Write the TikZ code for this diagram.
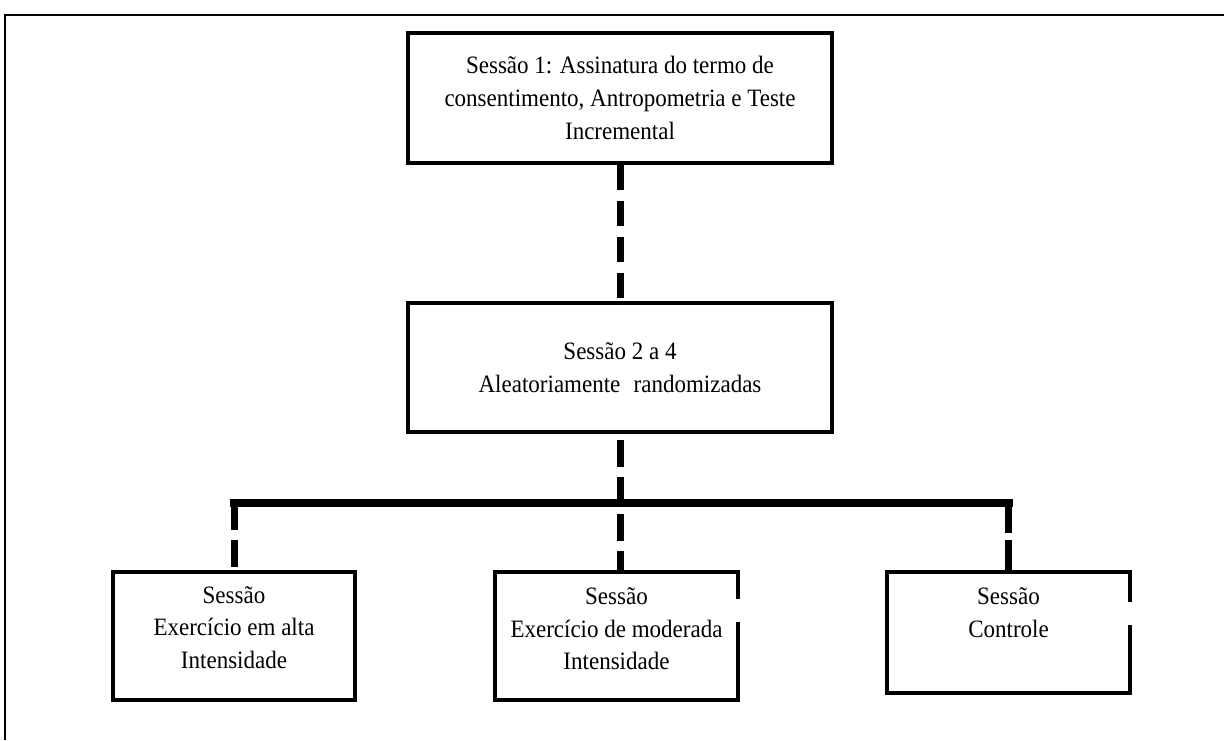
\documentclass[tikz,border=0pt]{standalone}
\usepackage{fontspec}
\setmainfont[FakeStretch=0.92]{Liberation Serif}
\begin{document}
\begin{tikzpicture}[x=1pt,y=-1pt,
  box/.style={draw, line width=4pt, line join=miter, inner sep=0pt, align=center,
    font=\fontsize{25}{33}\selectfont},
  openbox/.style={inner sep=0pt},
  boxline/.style={line width=4pt, line join=miter, line cap=rect},
  lbl/.style={inner sep=0pt, align=center, font=\fontsize{25}{32.5}\selectfont},
  dashlink/.style={line width=7pt, dash pattern=on 25pt off 11pt},
  barline/.style={line width=8pt, line cap=rect, line join=miter},
  frame/.style={line width=2.5pt}]
\useasboundingbox (0,0) rectangle (1224,740);
\fill[white] (0,0) rectangle (1224,740);
\draw[frame] (5,740) -- (5,15) -- (1224,15);

% top and middle boxes
\node[box, minimum width=424pt, minimum height=130pt] (s1) at (620,98)
  {Sessão 1: Assinatura do termo de\\consentimento, Antropometria e Teste\\Incremental};
\node[box, minimum width=424pt, minimum height=129pt] (s2) at (620,367.5)
  {Sessão 2 a 4\\Aleatoriamente\hspace{0.3em} randomizadas};

% bottom boxes
\node[box, minimum width=242pt, minimum height=128pt] (b1) at (234,636) {};
\node[openbox, minimum width=243pt, minimum height=128pt] (b2) at (616.5,636) {};
\node[openbox, minimum width=243pt, minimum height=121pt] (b3) at (1008.5,632.5) {};
\draw[boxline] ([yshift=-25pt]b2.north east) -- (b2.north east) -- (b2.north west)
  -- (b2.south west) -- (b2.south east) -- ([yshift=-52pt]b2.north east);
\draw[boxline] ([yshift=-28pt]b3.north east) -- (b3.north east) -- (b3.north west)
  -- (b3.south west) -- (b3.south east) -- ([yshift=-55pt]b3.north east);

\node[lbl, anchor=north] (t1) at ([yshift=-16pt]b1.north) {Sessão\\Exercício em alta\\Intensidade};
\node[lbl, anchor=north] (t2) at ([yshift=-16pt]b2.north) {Sessão\\Exercício de moderada\\Intensidade};
\node[lbl, anchor=north] (t3) at ([yshift=-16pt]b3.north) {Sessão\\Controle};

% connectors
\coordinate (jl) at (b1.north |- 0,503);
\coordinate (jr) at (b3.north |- 0,503);
\draw[dashlink] (s1.south) -- (s2.north);
\draw[barline] (jl) -- (jr);
\draw[dashlink, dash pattern=on 27pt off 10pt, dash phase=31pt] (s2.south) -- (s2.south |- b2.north);
\draw[dashlink, dash pattern=on 27pt off 10pt] (jl) -- (b1.north);
\draw[dashlink, dash pattern=on 30pt off 7pt] (jr) -- (b3.north);
\end{tikzpicture}
\end{document}
